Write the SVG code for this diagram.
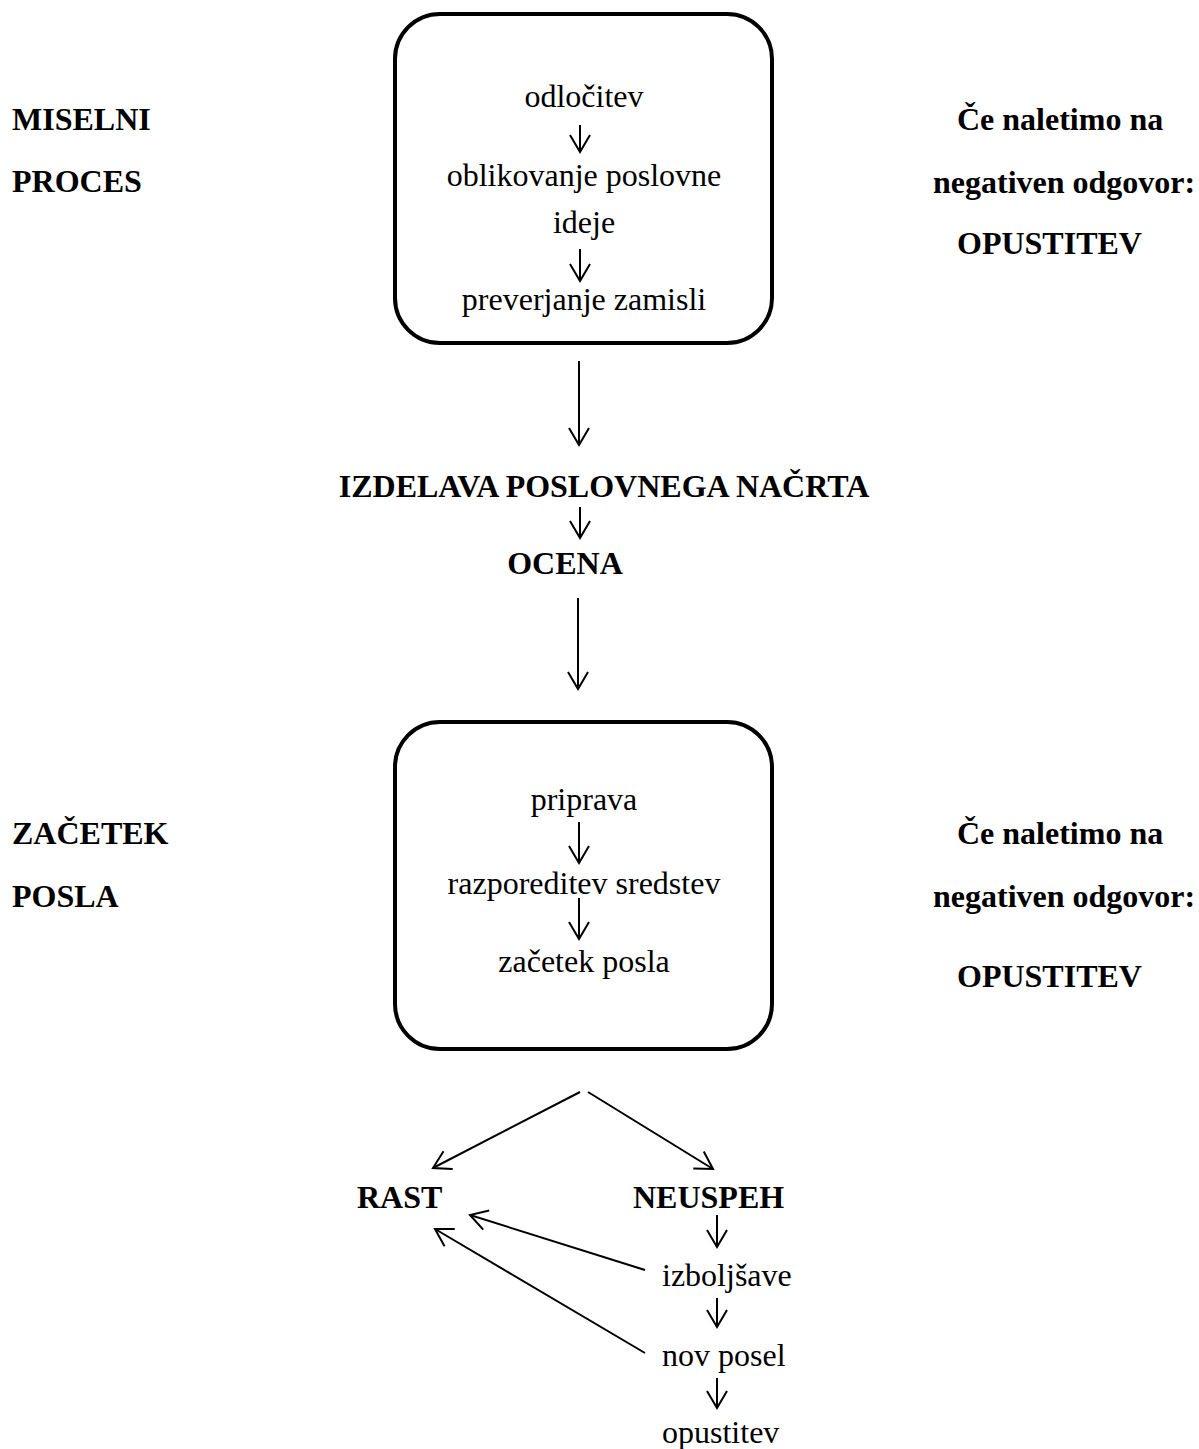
<svg xmlns="http://www.w3.org/2000/svg" width="1199" height="1449" viewBox="0 0 1199 1449">
<style>
text{font-family:"Liberation Serif","Times New Roman",serif;font-size:32px;fill:#000}
.b{font-weight:bold}
.c{text-anchor:middle}
.box{fill:none;stroke:#000;stroke-width:4}
.ar{fill:none;stroke:#000;stroke-width:2;marker-end:url(#ah)}
</style>
<defs>
<marker id="ah" markerUnits="userSpaceOnUse" viewBox="-20 -12 22 24" refX="0" refY="0" markerWidth="22" markerHeight="24" orient="auto" overflow="visible">
<path d="M-17,-10 L0,0 L-17,10" fill="none" stroke="#000" stroke-width="2"/>
</marker>
</defs>
<rect width="1199" height="1449" fill="#fff"/>
<g id="label-miselni">
<text class="b" x="12" y="130">MISELNI</text>
<text class="b" x="12" y="192">PROCES</text>
</g>
<g id="label-right-1">
<text class="b" x="957" y="130">Če naletimo na</text>
<text class="b" x="933" y="193">negativen odgovor:</text>
<text class="b" x="957" y="254">OPUSTITEV</text>
</g>
<g id="box-miselni">
<rect class="box" x="395" y="14" width="377" height="329" rx="45" ry="45"/>
<text class="c" x="584" y="107">odločitev</text>
<text class="c" x="584" y="186">oblikovanje poslovne</text>
<text class="c" x="584" y="233">ideje</text>
<text class="c" x="584" y="310">preverjanje zamisli</text>
</g>
<g id="izdelava">
<text class="b c" x="604" y="497">IZDELAVA POSLOVNEGA NAČRTA</text>
</g>
<g id="ocena">
<text class="b c" x="565" y="574">OCENA</text>
</g>
<g id="label-zacetek">
<text class="b" x="12" y="844">ZAČETEK</text>
<text class="b" x="12" y="907">POSLA</text>
</g>
<g id="label-right-2">
<text class="b" x="957" y="844">Če naletimo na</text>
<text class="b" x="933" y="907">negativen odgovor:</text>
<text class="b" x="957" y="987">OPUSTITEV</text>
</g>
<g id="box-zacetek">
<rect class="box" x="395" y="722" width="377" height="327" rx="45" ry="45"/>
<text class="c" x="584" y="810">priprava</text>
<text class="c" x="584" y="894">razporeditev sredstev</text>
<text class="c" x="584" y="972">začetek posla</text>
</g>
<g id="rast"><text class="b" x="357" y="1208">RAST</text></g>
<g id="neuspeh"><text class="b" x="633" y="1208">NEUSPEH</text></g>
<g id="izboljsave"><text x="662" y="1286">izboljšave</text></g>
<g id="nov-posel"><text x="662" y="1366">nov posel</text></g>
<g id="opustitev"><text x="662" y="1443">opustitev</text></g>
<g id="connectors">
<line class="ar" x1="580" y1="125" x2="580" y2="152"/>
<line class="ar" x1="580" y1="249" x2="580" y2="281"/>
<line class="ar" x1="579" y1="361" x2="579" y2="445"/>
<line class="ar" x1="580" y1="507" x2="580" y2="538"/>
<line class="ar" x1="578" y1="598" x2="578" y2="689"/>
<line class="ar" x1="579" y1="822" x2="579" y2="863"/>
<line class="ar" x1="579" y1="898" x2="579" y2="939"/>
<line class="ar" x1="580" y1="1092" x2="433" y2="1168"/>
<line class="ar" x1="588" y1="1092" x2="713" y2="1169"/>
<line class="ar" x1="717" y1="1215" x2="717" y2="1247"/>
<line class="ar" x1="717" y1="1298" x2="717" y2="1327"/>
<line class="ar" x1="717" y1="1378" x2="717" y2="1408"/>
<line class="ar" x1="645" y1="1270" x2="470" y2="1215"/>
<line class="ar" x1="645" y1="1353" x2="435" y2="1229"/>
</g>
</svg>
